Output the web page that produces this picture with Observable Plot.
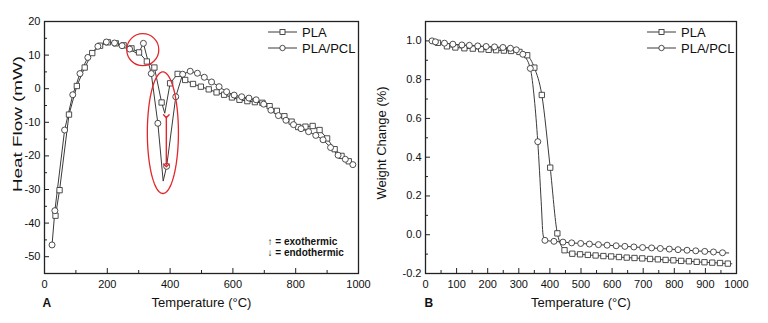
<!DOCTYPE html>
<html>
<head>
<meta charset="utf-8">
<script src="https://cdn.jsdelivr.net/npm/d3@7"></script>
<script src="https://cdn.jsdelivr.net/npm/@observablehq/plot@0.6"></script>
<style>
  body { margin: 0; background: #fff; }
  #wrap { position: relative; width: 768px; height: 323px; overflow: hidden; background: #fff; }
  #wrap svg { position: absolute; top: 0; overflow: visible; }
</style>
</head>
<body>
<div id="wrap"></div>
<script>
// ---------- DSC (heat flow) data: [temperature °C, heat flow mW] ----------
const dscPLA = [
  [35,-37.8],[48,-30.2],[78,-7.7],[103,0.8],[128,6.3],[152,10.6],[177,12.8],[202,13.8],
  [227,13.5],[252,12.9],[277,12.0],[301,10.8],[326,8.1],[350,6.3],[373,-4.1],[400,1.6],
  [424,4.4],[448,2.6],[473,1.4],[498,0.6],[523,-0.2],[548,-1.1],[572,-1.8],[597,-2.6],
  [621,-3.3],[646,-3.7],[670,-4.0],[694,-4.2],[717,-5.2],[740,-6.6],[764,-8.2],[787,-9.8],
  [808,-11.4],[831,-11.3],[854,-11.1],[876,-12.3],[900,-14.8],[924,-18.0],[946,-20.0],[969,-21.6]
];
// vertices of the PLA trace that carry no marker
const dscPLAVertices = [[383,-7.3]];

const dscBlend = [
  [24,-46.5],[33,-36.3],[64,-12.3],[90,-1.8],[113,4.5],[138,9.3],[170,12.6],[197,13.9],
  [223,13.6],[247,12.8],[271,11.8],[315,13.5],[340,4.5],[361,-10.3],[389,-23.1],[418,-2.4],
  [440,4.3],[464,5.2],[487,4.6],[509,3.4],[532,2.0],[556,0.6],[580,-0.9],[604,-1.9],
  [628,-2.4],[651,-2.8],[674,-3.3],[698,-4.6],[721,-6.4],[745,-8.0],[769,-9.4],[793,-10.7],
  [817,-11.9],[841,-12.8],[864,-13.9],[887,-15.2],[911,-17.5],[935,-19.8],[958,-21.0],[982,-22.6]
];
const dscBlendVertices = [[298,10.3],[378,-27.5]];

// highlighted regions and the exo/endo shift arrow (data units)
const crystPeak = {x: 313, y: 11.6};
const degradationZone = {x: 377, y: -13.1, rx: 49.5, ry: 18.1};
const shiftArrow = [{x: 388, top: -8.2, bottom: -22.8}];

// ---------- TGA (weight change) data: [temperature °C, fraction] ----------
const tgaPLA = [
  [40,0.990],[69,0.972],[96,0.966],[125,0.962],[152,0.960],[179,0.957],[203,0.954],[227,0.952],
  [252,0.950],[275,0.948],[302,0.943],[327,0.926],[350,0.862],[374,0.721],[401,0.346],[424,0.007],
  [447,-0.080],[472,-0.098],[497,-0.101],[522,-0.104],[547,-0.107],[572,-0.110],[597,-0.112],
  [622,-0.115],[647,-0.118],[672,-0.120],[697,-0.122],[722,-0.125],[747,-0.127],[772,-0.130],
  [797,-0.132],[822,-0.135],[847,-0.137],[872,-0.140],[897,-0.142],[922,-0.144],[947,-0.146],[972,-0.149]
];
const tgaPLAVertices = [[18,1.0],[985,-0.150]];

const tgaBlend = [
  [21,1.000],[32,0.995],[61,0.988],[88,0.983],[117,0.979],[141,0.977],[168,0.974],[195,0.971],
  [222,0.969],[249,0.966],[273,0.962],[292,0.954],[313,0.931],[337,0.858],[361,0.480],
  [384,-0.029],[413,-0.034],[442,-0.038],[470,-0.042],[499,-0.045],[527,-0.048],[556,-0.051],
  [584,-0.054],[613,-0.057],[641,-0.060],[670,-0.063],[698,-0.066],[727,-0.068],[755,-0.071],
  [784,-0.074],[812,-0.077],[841,-0.080],[869,-0.083],[898,-0.086],[926,-0.089],[955,-0.093]
];
const tgaBlendVertices = [[350,0.70],[372,0.17],[378,0.0],[975,-0.094]];

// ---------- axes ----------
const dscXMajor = [0,200,400,600,800,1000];
const dscXMinor = [100,300,500,700,900];
const dscYMajor = [-50,-40,-30,-20,-10,0,10,20];
const dscYMinor = [-45,-35,-25,-15,-5,5,15];

const tgaXMajor = [0,100,200,300,400,500,600,700,800,900,1000];
const tgaXMinor = [50,150,250,350,450,550,650,750,850,950];
const tgaYMajor = [-0.2,0,0.2,0.4,0.6,0.8,1.0];
const tgaYMinor = [-0.1,0.1,0.3,0.5,0.7,0.9];

const seriesNames = ["PLA", "PLA/PCL"];
const annotations = ["\u2191 = exothermic", "\u2193 = endothermic"];

// ---------- styling ----------
const ink = "#3a3a3a";
const red = "#e3262a";
const font = "'Liberation Sans', Arial, Helvetica, sans-serif";
const H = 323, MT = 21, MB = 50;
const innerH = H - MT - MB;

const trace = (pts, extra) => [...pts, ...extra].sort((a, b) => a[0] - b[0]);

function frameMarks({innerW, xMajor, xMinor, yMajor, yMinor, xFmt, yFmt}) {
  return [
    Plot.tickX(xMajor, {x: d => d, insetTop: innerH - 5, stroke: "#222", strokeWidth: 1}),
    Plot.tickX(xMinor, {x: d => d, insetTop: innerH - 3, stroke: "#222", strokeWidth: 1}),
    Plot.tickY(yMajor, {y: d => d, insetRight: innerW - 5, stroke: "#222", strokeWidth: 1}),
    Plot.tickY(yMinor, {y: d => d, insetRight: innerW - 3, stroke: "#222", strokeWidth: 1}),
    Plot.axisX({ticks: xMajor, tickSize: 0, tickPadding: 7, tickFormat: xFmt, fontSize: 11, label: null}),
    Plot.axisY({ticks: yMajor, tickSize: 0, tickPadding: 4, tickFormat: yFmt, fontSize: 11, label: null}),
    Plot.frame({stroke: "#222", strokeWidth: 1.3})
  ];
}

function seriesMarks(a, aExtra, b, bExtra, curve) {
  return [
    Plot.line(trace(a, aExtra), {x: d => d[0], y: d => d[1], stroke: ink, strokeWidth: 1, curve}),
    Plot.line(trace(b, bExtra), {x: d => d[0], y: d => d[1], stroke: ink, strokeWidth: 1, curve}),
    Plot.dot(a, {x: d => d[0], y: d => d[1], symbol: "square", r: 3, fill: "white", stroke: ink, strokeWidth: 0.9}),
    Plot.dot(b, {x: d => d[0], y: d => d[1], symbol: "circle", r: 3, fill: "white", stroke: ink, strokeWidth: 0.9})
  ];
}

function addLegend(svg, x0, y0) {
  const g = d3.select(svg).append("g").attr("font-family", font).attr("font-size", 13)
    .attr("fill", "#111").attr("text-anchor", "start");
  seriesNames.forEach((name, i) => {
    const y = y0 + i * 16;
    g.append("line").attr("x1", x0).attr("x2", x0 + 29).attr("y1", y).attr("y2", y)
      .attr("stroke", ink).attr("stroke-width", 1);
    if (i === 0) {
      g.append("rect").attr("x", x0 + 12).attr("y", y - 2.5).attr("width", 5).attr("height", 5)
        .attr("fill", "white").attr("stroke", ink).attr("stroke-width", 0.9);
    } else {
      g.append("circle").attr("cx", x0 + 14.5).attr("cy", y).attr("r", 2.7)
        .attr("fill", "white").attr("stroke", ink).attr("stroke-width", 0.9);
    }
    g.append("text").attr("x", x0 + 34).attr("y", y).attr("dy", "0.35em").text(name);
  });
}

function addYTitle(svg, x, y, label, length) {
  const t = d3.select(svg).append("text")
    .attr("transform", `translate(${x},${y}) rotate(-90)`)
    .attr("text-anchor", "middle").attr("dy", "0.35em")
    .attr("font-family", font).attr("font-size", 13).attr("fill", "#111")
    .text(label);
  if (length) t.attr("textLength", length).attr("lengthAdjust", "spacingAndGlyphs");
}

const ellipsePts = d3.range(0, 361, 4).map(a => [
  degradationZone.x + degradationZone.rx * Math.cos(a * Math.PI / 180),
  degradationZone.y + degradationZone.ry * Math.sin(a * Math.PI / 180)
]);

const noteFont = "'Liberation Sans Narrow', 'Liberation Sans', Arial, sans-serif";

// ---------- panel A: DSC ----------
const wA = 370, mlA = 44, mrA = 12;
const panelA = Plot.plot({
  width: wA, height: H,
  marginLeft: mlA, marginRight: mrA, marginTop: MT, marginBottom: MB,
  style: {fontFamily: font, fontSize: "11px", color: "#111", background: "none", overflow: "visible"},
  x: {domain: [0, 1000]},
  y: {domain: [-55, 20]},
  marks: [
    ...frameMarks({innerW: wA - mlA - mrA, xMajor: dscXMajor, xMinor: dscXMinor, yMajor: dscYMajor, yMinor: dscYMinor,
      xFmt: d => String(d), yFmt: d => String(d)}),
    ...seriesMarks(dscPLA, dscPLAVertices, dscBlend, dscBlendVertices, "linear"),
    Plot.dot([crystPeak], {x: "x", y: "y", r: 16, fill: "none", stroke: red, strokeWidth: 1.3}),
    Plot.line(ellipsePts, {x: d => d[0], y: d => d[1], stroke: red, strokeWidth: 1.3, curve: "linear"}),
    Plot.link(shiftArrow, {x1: "x", x2: "x", y1: "top", y2: "bottom", stroke: red, strokeWidth: 1.4,
      markerStart: "arrow", markerEnd: "arrow"}),
    Plot.text([annotations[0]], {frameAnchor: "bottom-right", dx: -91, dy: -32, textAnchor: "start",
      fontSize: 10, fontWeight: "bold", fill: "#111", lineAnchor: "middle", fontFamily: noteFont}),
    Plot.text([annotations[1]], {frameAnchor: "bottom-right", dx: -91, dy: -21, textAnchor: "start",
      fontSize: 10, fontWeight: "bold", fill: "#111", lineAnchor: "middle", fontFamily: noteFont}),
    Plot.text(["Temperature (\u00b0C)"], {frameAnchor: "bottom", dy: 29, fontSize: 13, fill: "#111", lineAnchor: "middle"}),
    Plot.text(["A"], {frameAnchor: "bottom-left", dx: -2, dy: 29.5, textAnchor: "start", fontSize: 12, fontWeight: "bold", fill: "#111", lineAnchor: "middle"})
  ]
});
panelA.style.left = "0px";
addLegend(panelA, 268, 32);
addYTitle(panelA, 17, 124, "Heat Flow (mW)", 136);

// ---------- panel B: TGA ----------
const wB = 398, mlB = 55, mrB = 32;
const panelB = Plot.plot({
  width: wB, height: H,
  marginLeft: mlB, marginRight: mrB, marginTop: MT, marginBottom: MB,
  style: {fontFamily: font, fontSize: "11px", color: "#111", background: "none", overflow: "visible"},
  x: {domain: [0, 1000]},
  y: {domain: [-0.2, 1.1]},
  marks: [
    ...frameMarks({innerW: wB - mlB - mrB, xMajor: tgaXMajor, xMinor: tgaXMinor, yMajor: tgaYMajor, yMinor: tgaYMinor,
      xFmt: d => String(d), yFmt: d => d.toFixed(1)}),
    ...seriesMarks(tgaPLA, tgaPLAVertices, tgaBlend, tgaBlendVertices, "monotone-x"),
    Plot.text(["Temperature (\u00b0C)"], {frameAnchor: "bottom", dy: 29, fontSize: 13, fill: "#111", lineAnchor: "middle"}),
    Plot.text(["B"], {frameAnchor: "bottom-left", dx: -1, dy: 29.5, textAnchor: "start", fontSize: 12, fontWeight: "bold", fill: "#111", lineAnchor: "middle"})
  ]
});
panelB.style.left = "370px";
addLegend(panelB, 277, 32);
addYTitle(panelB, 11, 143, "Weight Change (%)");

const wrap = document.getElementById("wrap");
wrap.append(panelA, panelB);
</script>
</body>
</html>
